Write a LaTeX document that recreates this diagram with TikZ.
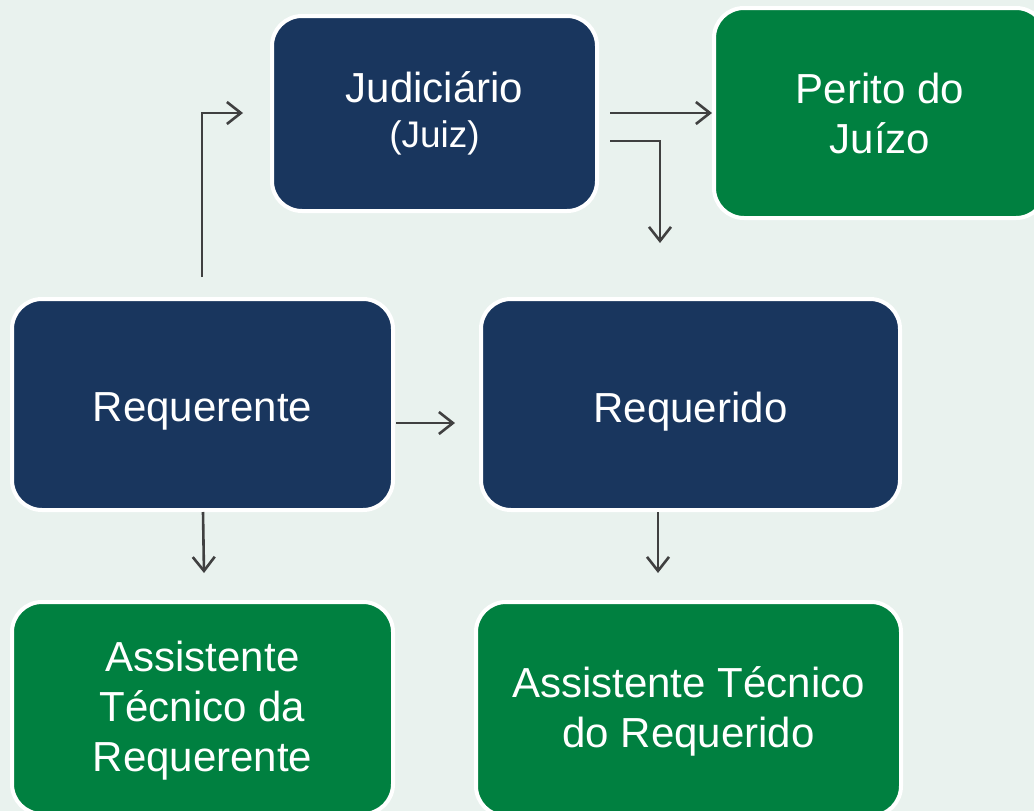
\documentclass[tikz,border=0pt]{standalone}
\usepackage{fontspec}
\setmainfont{Liberation Sans}
\usetikzlibrary{arrows.meta}
\definecolor{bgc}{HTML}{E9F2EE}
\definecolor{navy}{HTML}{19365E}
\definecolor{grn}{HTML}{008040}
\definecolor{arrc}{HTML}{404040}
\newcommand{\lowerby}[2]{\raisebox{-#1}[\height][\depth]{#2}}
\tikzset{
  box/.style={rectangle, rounded corners=30pt, draw=white, line width=4pt, text=white,
    align=center, font=\fontsize{42}{50}\selectfont, inner sep=0pt},
  navybox/.style={box, fill=navy},
  greenbox/.style={box, fill=grn},
  arr/.style={draw=arrc, line width=2.6pt, -{Straight Barb[length=14pt,width=22pt,line width=2.6pt]}}
}
\begin{document}
\begin{tikzpicture}[x=1pt,y=-1pt]
\useasboundingbox[fill=bgc] (0,0) rectangle (1034,811);
\begin{scope}
\clip (0,0) rectangle (1034,811);
\node[navybox, minimum width=325pt, minimum height=195pt] (jud) at (434.5,113.5)
  {Judiciário\\[-5pt]{\fontsize{37}{44}\selectfont (Juiz)}};
\node[greenbox, minimum width=332pt, minimum height=210pt] (per) at (880,113) {Perito do\\Juízo};
\node[navybox, minimum width=381pt, minimum height=211pt] (rqt) at (202.5,404.5) {\lowerby{7pt}{Requerente}};
\node[navybox, minimum width=419pt, minimum height=211pt] (rqd) at (690.5,404.5) {\lowerby{7pt}{Requerido}};
\node[greenbox, minimum width=381pt, minimum height=212pt] (ast1) at (202.5,708) {\lowerby{3pt}{\begin{tabular}{@{}c@{}}Assistente\\Técnico da\\Requerente\end{tabular}}};
\node[greenbox, minimum width=425pt, minimum height=214pt] (ast2) at (688.5,709) {\lowerby{3pt}{\begin{tabular}{@{}c@{}}Assistente Técnico\\do Requerido\end{tabular}}};
\end{scope}
\coordinate (a1s) at (202,277);
\coordinate (a1e) at (243,113);
\coordinate (a2s) at (610,113);
\coordinate (a3s) at (610,141);
\coordinate (a3e) at (660,243);
\coordinate (a4s) at (396,423);
\coordinate (a4e) at (455,423);
\coordinate (a5s) at (203,512);
\coordinate (a5e) at (204,573);
\coordinate (a6s) at (658,512);
\coordinate (a6e) at (658,573);
\draw[arr] (a1s) |- (a1e);
\draw[arr] (a2s) -- (per.west);
\draw[arr] (a3s) -| (a3e);
\draw[arr] (a4s) -- (a4e);
\draw[arr] (a5s) -- (a5e);
\draw[arr] (a6s) -- (a6e);
\end{tikzpicture}
\end{document}
